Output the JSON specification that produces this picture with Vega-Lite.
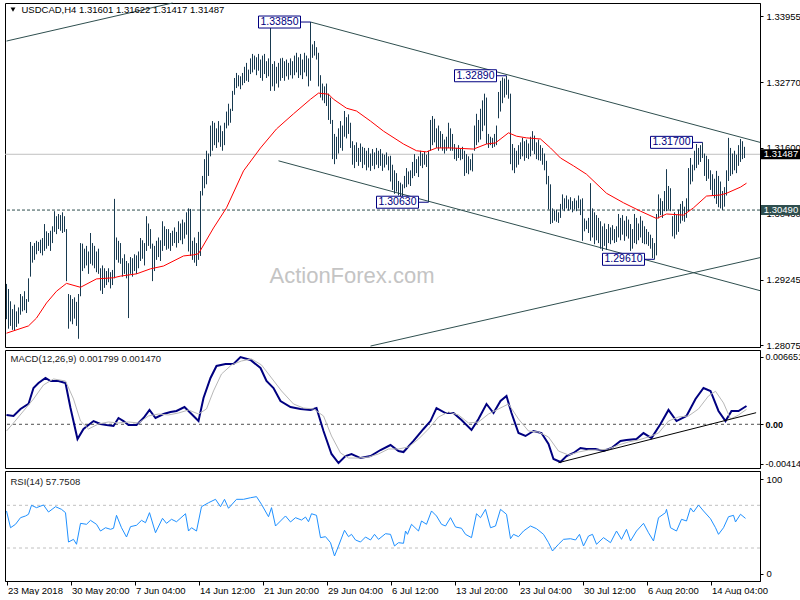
{
"$schema": "https://vega.github.io/schema/vega-lite/v6.json",
"background": "white",
"padding": {"left": 2, "top": 2, "right": 0, "bottom": 0},
"spacing": 3,
"bounds": "flush",
"resolve": {"scale": {"x": "independent", "y": "independent"}},
"config": {"view": {"stroke": "black", "strokeWidth": 1}, "font": "Liberation Sans", "text": {"font": "Liberation Sans"}},
"datasets": {
"bars": [
{"i":0,"h":1.2917,"l":1.2854},{"i":1,"h":1.2908,"l":1.2837},{"i":2,"h":1.2886,"l":1.2842},{"i":3,"h":1.2872,"l":1.2835},{"i":4,"h":1.2880,"l":1.2833},{"i":5,"h":1.2868,"l":1.2840},{"i":6,"h":1.2875,"l":1.2846},{"i":7,"h":1.2899,"l":1.2862},{"i":8,"h":1.2895,"l":1.2868},{"i":9,"h":1.2904,"l":1.2870},
{"i":10,"h":1.2890,"l":1.2865},{"i":11,"h":1.2927,"l":1.2885},{"i":12,"h":1.2992,"l":1.2930},{"i":13,"h":1.2985,"l":1.2955},{"i":14,"h":1.2990,"l":1.2960},{"i":15,"h":1.2994,"l":1.2970},{"i":16,"h":1.2992,"l":1.2976},{"i":17,"h":1.2996,"l":1.2972},{"i":18,"h":1.2999,"l":1.2968},{"i":19,"h":1.3024,"l":1.2976},
{"i":20,"h":1.3011,"l":1.2980},{"i":21,"h":1.3008,"l":1.2985},{"i":22,"h":1.3012,"l":1.2976},{"i":23,"h":1.3020,"l":1.2990},{"i":24,"h":1.3047,"l":1.3010},{"i":25,"h":1.3038,"l":1.3006},{"i":26,"h":1.3042,"l":1.3015},{"i":27,"h":1.3040,"l":1.3012},{"i":28,"h":1.3045,"l":1.3008},{"i":29,"h":1.3038,"l":1.3010},
{"i":30,"h":1.3015,"l":1.2922},{"i":31,"h":1.2899,"l":1.2837},{"i":32,"h":1.2897,"l":1.2850},{"i":33,"h":1.2890,"l":1.2845},{"i":34,"h":1.2893,"l":1.2855},{"i":35,"h":1.2885,"l":1.2842},{"i":36,"h":1.2899,"l":1.2819},{"i":37,"h":1.2990,"l":1.2895},{"i":38,"h":1.2989,"l":1.2940},{"i":39,"h":1.2980,"l":1.2945},
{"i":40,"h":1.2985,"l":1.2950},{"i":41,"h":1.2975,"l":1.2935},{"i":42,"h":1.3008,"l":1.2953},{"i":43,"h":1.2990,"l":1.2950},{"i":44,"h":1.2985,"l":1.2945},{"i":45,"h":1.2975,"l":1.2938},{"i":46,"h":1.2980,"l":1.2935},{"i":47,"h":1.2945,"l":1.2905},{"i":48,"h":1.2950,"l":1.2899},{"i":49,"h":1.2945,"l":1.2910},
{"i":50,"h":1.2940,"l":1.2915},{"i":51,"h":1.2945,"l":1.2920},{"i":52,"h":1.2938,"l":1.2909},{"i":53,"h":1.2942,"l":1.2915},{"i":54,"h":1.3069,"l":1.2927},{"i":55,"h":1.3000,"l":1.2960},{"i":56,"h":1.2994,"l":1.2955},{"i":57,"h":1.2990,"l":1.2953},{"i":58,"h":1.2963,"l":1.2930},{"i":59,"h":1.2970,"l":1.2935},
{"i":60,"h":1.2958,"l":1.2927},{"i":61,"h":1.2954,"l":1.2856},{"i":62,"h":1.2965,"l":1.2935},{"i":63,"h":1.2963,"l":1.2930},{"i":64,"h":1.2970,"l":1.2940},{"i":65,"h":1.2968,"l":1.2935},{"i":66,"h":1.2975,"l":1.2945},{"i":67,"h":1.2999,"l":1.2958},{"i":68,"h":1.2995,"l":1.2962},{"i":69,"h":1.2990,"l":1.2950},
{"i":70,"h":1.3038,"l":1.2976},{"i":71,"h":1.3025,"l":1.2985},{"i":72,"h":1.3015,"l":1.2980},{"i":73,"h":1.2989,"l":1.2922},{"i":74,"h":1.2985,"l":1.2940},{"i":75,"h":1.2994,"l":1.2960},{"i":76,"h":1.3000,"l":1.2965},{"i":77,"h":1.2995,"l":1.2958},{"i":78,"h":1.3029,"l":1.2976},{"i":79,"h":1.3020,"l":1.2985},
{"i":80,"h":1.3015,"l":1.2978},{"i":81,"h":1.3015,"l":1.2980},{"i":82,"h":1.3008,"l":1.2976},{"i":83,"h":1.3012,"l":1.2985},{"i":84,"h":1.3018,"l":1.2990},{"i":85,"h":1.3010,"l":1.2982},{"i":86,"h":1.3029,"l":1.2990},{"i":87,"h":1.3025,"l":1.2995},{"i":88,"h":1.3032,"l":1.2988},{"i":89,"h":1.3027,"l":1.2998},
{"i":90,"h":1.3045,"l":1.3005},{"i":91,"h":1.3052,"l":1.2975},{"i":92,"h":1.3051,"l":1.2967},{"i":93,"h":1.2994,"l":1.2960},{"i":94,"h":1.3000,"l":1.2955},{"i":95,"h":1.2990,"l":1.2949},{"i":96,"h":1.3010,"l":1.2960},{"i":97,"h":1.3083,"l":1.2967},{"i":98,"h":1.3110,"l":1.3075},{"i":99,"h":1.3140,"l":1.3088},
{"i":100,"h":1.3155,"l":1.3095},{"i":101,"h":1.3150,"l":1.3110},{"i":102,"h":1.3200,"l":1.3145},{"i":103,"h":1.3208,"l":1.3155},{"i":104,"h":1.3205,"l":1.3165},{"i":105,"h":1.3195,"l":1.3160},{"i":106,"h":1.3208,"l":1.3170},{"i":107,"h":1.3200,"l":1.3162},{"i":108,"h":1.3190,"l":1.3155},{"i":109,"h":1.3205,"l":1.3165},
{"i":110,"h":1.3225,"l":1.3195},{"i":111,"h":1.3239,"l":1.3200},{"i":112,"h":1.3230,"l":1.3205},{"i":113,"h":1.3262,"l":1.3226},{"i":114,"h":1.3285,"l":1.3255},{"i":115,"h":1.3294,"l":1.3267},{"i":116,"h":1.3290,"l":1.3270},{"i":117,"h":1.3288,"l":1.3265},{"i":118,"h":1.3294,"l":1.3272},{"i":119,"h":1.3305,"l":1.3276},
{"i":120,"h":1.3312,"l":1.3280},{"i":121,"h":1.3300,"l":1.3278},{"i":122,"h":1.3320,"l":1.3292},{"i":123,"h":1.3328,"l":1.3295},{"i":124,"h":1.3325,"l":1.3300},{"i":125,"h":1.3322,"l":1.3290},{"i":126,"h":1.3328,"l":1.3298},{"i":127,"h":1.3318,"l":1.3285},{"i":128,"h":1.3325,"l":1.3280},{"i":129,"h":1.3328,"l":1.3292},
{"i":130,"h":1.3315,"l":1.3285},{"i":131,"h":1.3320,"l":1.3288},{"i":132,"h":1.3382,"l":1.3262},{"i":133,"h":1.3310,"l":1.3270},{"i":134,"h":1.3315,"l":1.3262},{"i":135,"h":1.3305,"l":1.3275},{"i":136,"h":1.3312,"l":1.3268},{"i":137,"h":1.3320,"l":1.3280},{"i":138,"h":1.3321,"l":1.3285},{"i":139,"h":1.3315,"l":1.3280},
{"i":140,"h":1.3318,"l":1.3288},{"i":141,"h":1.3312,"l":1.3282},{"i":142,"h":1.3320,"l":1.3290},{"i":143,"h":1.3315,"l":1.3284},{"i":144,"h":1.3325,"l":1.3290},{"i":145,"h":1.3330,"l":1.3295},{"i":146,"h":1.3322,"l":1.3285},{"i":147,"h":1.3328,"l":1.3290},{"i":148,"h":1.3318,"l":1.3283},{"i":149,"h":1.3330,"l":1.3295},
{"i":150,"h":1.3325,"l":1.3288},{"i":151,"h":1.3320,"l":1.3270},{"i":152,"h":1.3385,"l":1.3280},{"i":153,"h":1.3345,"l":1.3321},{"i":154,"h":1.3351,"l":1.3325},{"i":155,"h":1.3340,"l":1.3318},{"i":156,"h":1.3330,"l":1.3270},{"i":157,"h":1.3290,"l":1.3250},{"i":158,"h":1.3275,"l":1.3245},{"i":159,"h":1.3270,"l":1.3240},
{"i":160,"h":1.3275,"l":1.3235},{"i":161,"h":1.3257,"l":1.3210},{"i":162,"h":1.3250,"l":1.3203},{"i":163,"h":1.3210,"l":1.3140},{"i":164,"h":1.3185,"l":1.3131},{"i":165,"h":1.3180,"l":1.3140},{"i":166,"h":1.3195,"l":1.3150},{"i":167,"h":1.3208,"l":1.3160},{"i":168,"h":1.3200,"l":1.3155},{"i":169,"h":1.3226,"l":1.3180},
{"i":170,"h":1.3215,"l":1.3177},{"i":171,"h":1.3220,"l":1.3185},{"i":172,"h":1.3205,"l":1.3160},{"i":173,"h":1.3172,"l":1.3130},{"i":174,"h":1.3165,"l":1.3124},{"i":175,"h":1.3170,"l":1.3135},{"i":176,"h":1.3160,"l":1.3128},{"i":177,"h":1.3168,"l":1.3135},{"i":178,"h":1.3162,"l":1.3124},{"i":179,"h":1.3160,"l":1.3130},
{"i":180,"h":1.3155,"l":1.3120},{"i":181,"h":1.3160,"l":1.3125},{"i":182,"h":1.3150,"l":1.3119},{"i":183,"h":1.3158,"l":1.3128},{"i":184,"h":1.3152,"l":1.3122},{"i":185,"h":1.3160,"l":1.3130},{"i":186,"h":1.3155,"l":1.3124},{"i":187,"h":1.3158,"l":1.3128},{"i":188,"h":1.3150,"l":1.3119},{"i":189,"h":1.3148,"l":1.3125},
{"i":190,"h":1.3152,"l":1.3130},{"i":191,"h":1.3145,"l":1.3120},{"i":192,"h":1.3146,"l":1.3100},{"i":193,"h":1.3130,"l":1.3085},{"i":194,"h":1.3120,"l":1.3078},{"i":195,"h":1.3115,"l":1.3082},{"i":196,"h":1.3101,"l":1.3075},{"i":197,"h":1.3098,"l":1.3070},{"i":198,"h":1.3095,"l":1.3072},{"i":199,"h":1.3110,"l":1.3088},
{"i":200,"h":1.3124,"l":1.3090},{"i":201,"h":1.3118,"l":1.3095},{"i":202,"h":1.3120,"l":1.3092},{"i":203,"h":1.3135,"l":1.3106},{"i":204,"h":1.3149,"l":1.3110},{"i":205,"h":1.3140,"l":1.3115},{"i":206,"h":1.3145,"l":1.3108},{"i":207,"h":1.3155,"l":1.3128},{"i":208,"h":1.3150,"l":1.3124},{"i":209,"h":1.3153,"l":1.3130},
{"i":210,"h":1.3148,"l":1.3126},{"i":211,"h":1.3155,"l":1.3063},{"i":212,"h":1.3210,"l":1.3155},{"i":213,"h":1.3217,"l":1.3165},{"i":214,"h":1.3212,"l":1.3170},{"i":215,"h":1.3195,"l":1.3160},{"i":216,"h":1.3200,"l":1.3155},{"i":217,"h":1.3190,"l":1.3160},{"i":218,"h":1.3185,"l":1.3155},{"i":219,"h":1.3175,"l":1.3150},
{"i":220,"h":1.3180,"l":1.3155},{"i":221,"h":1.3205,"l":1.3160},{"i":222,"h":1.3195,"l":1.3155},{"i":223,"h":1.3185,"l":1.3155},{"i":224,"h":1.3167,"l":1.3140},{"i":225,"h":1.3160,"l":1.3137},{"i":226,"h":1.3165,"l":1.3142},{"i":227,"h":1.3158,"l":1.3138},{"i":228,"h":1.3162,"l":1.3140},{"i":229,"h":1.3155,"l":1.3110},
{"i":230,"h":1.3149,"l":1.3115},{"i":231,"h":1.3145,"l":1.3113},{"i":232,"h":1.3140,"l":1.3120},{"i":233,"h":1.3150,"l":1.3118},{"i":234,"h":1.3200,"l":1.3155},{"i":235,"h":1.3221,"l":1.3165},{"i":236,"h":1.3210,"l":1.3170},{"i":237,"h":1.3230,"l":1.3175},{"i":238,"h":1.3245,"l":1.3190},{"i":239,"h":1.3257,"l":1.3200},
{"i":240,"h":1.3250,"l":1.3167},{"i":241,"h":1.3185,"l":1.3160},{"i":242,"h":1.3180,"l":1.3165},{"i":243,"h":1.3178,"l":1.3160},{"i":244,"h":1.3185,"l":1.3162},{"i":245,"h":1.3200,"l":1.3165},{"i":246,"h":1.3260,"l":1.3213},{"i":247,"h":1.3280,"l":1.3225},{"i":248,"h":1.3286,"l":1.3240},{"i":249,"h":1.3284,"l":1.3250},
{"i":250,"h":1.3289,"l":1.3255},{"i":251,"h":1.3282,"l":1.3248},{"i":252,"h":1.3257,"l":1.3131},{"i":253,"h":1.3167,"l":1.3120},{"i":254,"h":1.3160,"l":1.3115},{"i":255,"h":1.3155,"l":1.3125},{"i":256,"h":1.3165,"l":1.3130},{"i":257,"h":1.3170,"l":1.3140},{"i":258,"h":1.3178,"l":1.3145},{"i":259,"h":1.3172,"l":1.3137},
{"i":260,"h":1.3175,"l":1.3142},{"i":261,"h":1.3168,"l":1.3140},{"i":262,"h":1.3180,"l":1.3145},{"i":263,"h":1.3190,"l":1.3155},{"i":264,"h":1.3182,"l":1.3149},{"i":265,"h":1.3170,"l":1.3140},{"i":266,"h":1.3175,"l":1.3138},{"i":267,"h":1.3165,"l":1.3137},{"i":268,"h":1.3160,"l":1.3130},{"i":269,"h":1.3150,"l":1.3120},
{"i":270,"h":1.3137,"l":1.3095},{"i":271,"h":1.3110,"l":1.3050},{"i":272,"h":1.3095,"l":1.3024},{"i":273,"h":1.3052,"l":1.3026},{"i":274,"h":1.3048,"l":1.3030},{"i":275,"h":1.3050,"l":1.3028},{"i":276,"h":1.3045,"l":1.3026},{"i":277,"h":1.3060,"l":1.3035},{"i":278,"h":1.3077,"l":1.3050},{"i":279,"h":1.3070,"l":1.3047},
{"i":280,"h":1.3075,"l":1.3052},{"i":281,"h":1.3068,"l":1.3048},{"i":282,"h":1.3072,"l":1.3050},{"i":283,"h":1.3065,"l":1.3045},{"i":284,"h":1.3070,"l":1.3050},{"i":285,"h":1.3066,"l":1.3047},{"i":286,"h":1.3075,"l":1.3052},{"i":287,"h":1.3068,"l":1.3040},{"i":288,"h":1.3070,"l":1.2994},{"i":289,"h":1.3034,"l":1.3011},
{"i":290,"h":1.3030,"l":1.3015},{"i":291,"h":1.3035,"l":1.3008},{"i":292,"h":1.3097,"l":1.2994},{"i":293,"h":1.3052,"l":1.3000},{"i":294,"h":1.3045,"l":1.2988},{"i":295,"h":1.3040,"l":1.2995},{"i":296,"h":1.3035,"l":1.2990},{"i":297,"h":1.3029,"l":1.2980},{"i":298,"h":1.3020,"l":1.2976},{"i":299,"h":1.3025,"l":1.2985},
{"i":300,"h":1.3015,"l":1.2978},{"i":301,"h":1.3024,"l":1.2990},{"i":302,"h":1.3018,"l":1.2988},{"i":303,"h":1.3022,"l":1.2995},{"i":304,"h":1.3015,"l":1.2990},{"i":305,"h":1.3020,"l":1.2992},{"i":306,"h":1.3042,"l":1.3000},{"i":307,"h":1.3035,"l":1.2995},{"i":308,"h":1.3040,"l":1.3005},{"i":309,"h":1.3030,"l":1.2994},
{"i":310,"h":1.3038,"l":1.3002},{"i":311,"h":1.3032,"l":1.2998},{"i":312,"h":1.3024,"l":1.2976},{"i":313,"h":1.3015,"l":1.2980},{"i":314,"h":1.3042,"l":1.2990},{"i":315,"h":1.3035,"l":1.2988},{"i":316,"h":1.3025,"l":1.2995},{"i":317,"h":1.3038,"l":1.3000},{"i":318,"h":1.3030,"l":1.2990},{"i":319,"h":1.3020,"l":1.2988},
{"i":320,"h":1.3015,"l":1.2988},{"i":321,"h":1.3010,"l":1.2985},{"i":322,"h":1.3005,"l":1.2980},{"i":323,"h":1.2999,"l":1.2963},{"i":324,"h":1.2990,"l":1.2961},{"i":325,"h":1.3042,"l":1.2968},{"i":326,"h":1.3077,"l":1.3034},{"i":327,"h":1.3070,"l":1.3040},{"i":328,"h":1.3065,"l":1.3035},{"i":329,"h":1.3083,"l":1.3047},
{"i":330,"h":1.3122,"l":1.3047},{"i":331,"h":1.3092,"l":1.3050},{"i":332,"h":1.3088,"l":1.3047},{"i":333,"h":1.3038,"l":1.3002},{"i":334,"h":1.3045,"l":1.2998},{"i":335,"h":1.3040,"l":1.3005},{"i":336,"h":1.3050,"l":1.3010},{"i":337,"h":1.3060,"l":1.3025},{"i":338,"h":1.3065,"l":1.3030},{"i":339,"h":1.3055,"l":1.3028},
{"i":340,"h":1.3070,"l":1.3035},{"i":341,"h":1.3124,"l":1.3047},{"i":342,"h":1.3142,"l":1.3095},{"i":343,"h":1.3130,"l":1.3100},{"i":344,"h":1.3155,"l":1.3120},{"i":345,"h":1.3167,"l":1.3124},{"i":346,"h":1.3160,"l":1.3130},{"i":347,"h":1.3165,"l":1.3135},{"i":348,"h":1.3170,"l":1.3142},{"i":349,"h":1.3150,"l":1.3110},
{"i":350,"h":1.3146,"l":1.3101},{"i":351,"h":1.3140,"l":1.3105},{"i":352,"h":1.3120,"l":1.3085},{"i":353,"h":1.3113,"l":1.3075},{"i":354,"h":1.3105,"l":1.3070},{"i":355,"h":1.3119,"l":1.3060},{"i":356,"h":1.3110,"l":1.3054},{"i":357,"h":1.3100,"l":1.3052},{"i":358,"h":1.3083,"l":1.3049},{"i":359,"h":1.3090,"l":1.3055},
{"i":360,"h":1.3120,"l":1.3075},{"i":361,"h":1.3178,"l":1.3101},{"i":362,"h":1.3160,"l":1.3110},{"i":363,"h":1.3150,"l":1.3113},{"i":364,"h":1.3155,"l":1.3120},{"i":365,"h":1.3148,"l":1.3115},{"i":366,"h":1.3165,"l":1.3128},{"i":367,"h":1.3176,"l":1.3135},{"i":368,"h":1.3172,"l":1.3140},{"i":369,"h":1.3162,"l":1.3142}
],
"ma": [
{"i":0,"v":1.2829},{"i":11,"v":1.2842},{"i":15,"v":1.2856},{"i":20,"v":1.2883},{"i":25,"v":1.2904},{"i":30,"v":1.2918},{"i":37,"v":1.2911},{"i":45,"v":1.2926},{"i":53.5,"v":1.2928},{"i":57,"v":1.2931},{"i":65,"v":1.2935},{"i":72,"v":1.2944},{"i":78.5,"v":1.2949},{"i":88.5,"v":1.2967},{"i":93.5,"v":1.2969},{"i":96,"v":1.2971},{"i":103.5,"v":1.3017},{"i":110,"v":1.3053},{"i":118.5,"v":1.3119},{"i":127,"v":1.3160},{"i":135,"v":1.3194},{"i":143.5,"v":1.3221},{"i":152,"v":1.3247},{"i":156,"v":1.3258},{"i":161,"v":1.3256},{"i":163.5,"v":1.3247},{"i":170,"v":1.3231},{"i":175,"v":1.3226},{"i":182,"v":1.3208},{"i":188.5,"v":1.3190},{"i":198.5,"v":1.3167},{"i":205,"v":1.3155},{"i":210,"v":1.3153},{"i":215,"v":1.3160},{"i":222,"v":1.3160},{"i":233.5,"v":1.3158},{"i":240,"v":1.3167},{"i":244.5,"v":1.3169},{"i":251,"v":1.3187},{"i":255,"v":1.3181},{"i":260,"v":1.3178},{"i":267,"v":1.3176},{"i":272,"v":1.3160},{"i":277,"v":1.3142},{"i":283.5,"v":1.3128},{"i":290,"v":1.3113},{"i":300,"v":1.3079},{"i":308.5,"v":1.3062},{"i":317,"v":1.3047},{"i":325,"v":1.3034},{"i":330,"v":1.3042},{"i":338.5,"v":1.3040},{"i":343.5,"v":1.3053},{"i":350,"v":1.3074},{"i":357,"v":1.3076},{"i":360,"v":1.3079},{"i":367,"v":1.3090},{"i":370,"v":1.3097}
],
"macd": [
{"i":0,"m":0.00092},{"i":3.5,"m":0.00082},{"i":7,"m":0.00151},{"i":11,"m":0.00200},{"i":13.5,"m":0.00357},{"i":16,"m":0.00406},{"i":19.5,"m":0.00456},{"i":22,"m":0.00426},{"i":26,"m":0.00426},{"i":29.5,"m":0.00406},{"i":32,"m":0.00160},{"i":35.5,"m":-0.00145},{"i":38.5,"m":-0.00046},{"i":43.5,"m":0.00032},{"i":47,"m":0.00003},{"i":50,"m":-0.00007},{"i":53.5,"m":-0.00017},{"i":56,"m":0.00062},{"i":58.5,"m":0.00032},{"i":61,"m":-0.00007},{"i":65,"m":-0.00007},{"i":68.5,"m":0.00062},{"i":71.5,"m":0.00141},{"i":74.5,"m":0.00062},{"i":78.5,"m":0.00101},{"i":82,"m":0.00121},{"i":85,"m":0.00131},{"i":89,"m":0.00170},{"i":92,"m":0.00111},{"i":96,"m":0.00032},{"i":98.5,"m":0.00259},{"i":102,"m":0.00456},{"i":105,"m":0.00574},{"i":109.5,"m":0.00593},{"i":113.5,"m":0.00593},{"i":117,"m":0.00662},{"i":122,"m":0.00633},{"i":127,"m":0.00554},{"i":130,"m":0.00426},{"i":133.5,"m":0.00357},{"i":137,"m":0.00229},{"i":142,"m":0.00170},{"i":147,"m":0.00151},{"i":152,"m":0.00141},{"i":155,"m":0.00160},{"i":158.5,"m":-0.00066},{"i":162.5,"m":-0.00292},{"i":166,"m":-0.00381},{"i":169.5,"m":-0.00312},{"i":172.5,"m":-0.00292},{"i":177,"m":-0.00332},{"i":182,"m":-0.00312},{"i":187,"m":-0.00253},{"i":192,"m":-0.00204},{"i":196,"m":-0.00263},{"i":198.5,"m":-0.00273},{"i":203.5,"m":-0.00164},{"i":208.5,"m":-0.00046},{"i":212,"m":0.00032},{"i":215,"m":0.00160},{"i":219.5,"m":0.00111},{"i":223.5,"m":0.00111},{"i":227.5,"m":0.00042},{"i":232.5,"m":-0.00056},{"i":236,"m":0.00052},{"i":240,"m":0.00200},{"i":243.5,"m":0.00111},{"i":247,"m":0.00229},{"i":250,"m":0.00278},{"i":252.5,"m":0.00111},{"i":256,"m":-0.00086},{"i":259.5,"m":-0.00115},{"i":263.5,"m":-0.00066},{"i":267.5,"m":-0.00086},{"i":271,"m":-0.00194},{"i":273.5,"m":-0.00341},{"i":277,"m":-0.00371},{"i":280,"m":-0.00312},{"i":283.5,"m":-0.00282},{"i":287,"m":-0.00233},{"i":290,"m":-0.00243},{"i":294.5,"m":-0.00243},{"i":298.5,"m":-0.00263},{"i":302.5,"m":-0.00233},{"i":307,"m":-0.00164},{"i":310,"m":-0.00154},{"i":315,"m":-0.00145},{"i":318.5,"m":-0.00086},{"i":322.5,"m":-0.00135},{"i":327,"m":0.00003},{"i":331,"m":0.00141},{"i":335,"m":0.00032},{"i":340,"m":0.00082},{"i":344.5,"m":0.00249},{"i":348.5,"m":0.00357},{"i":352,"m":0.00328},{"i":356,"m":0.00131},{"i":359.5,"m":0.00032},{"i":362.5,"m":0.00131},{"i":366,"m":0.00131},{"i":370,"m":0.00180}
],
"sig": [
{"i":0,"s":-0.00066},{"i":3.5,"s":0.00013},{"i":8.5,"s":0.00131},{"i":13.5,"s":0.00249},{"i":18.5,"s":0.00387},{"i":23.5,"s":0.00446},{"i":29.5,"s":0.00426},{"i":33.5,"s":0.00249},{"i":37,"s":0.00032},{"i":41,"s":-0.00046},{"i":46,"s":0.00003},{"i":51,"s":0.00023},{"i":56,"s":0.00013},{"i":61,"s":0.00023},{"i":66,"s":0.00013},{"i":71,"s":0.00082},{"i":76,"s":0.00101},{"i":81,"s":0.00092},{"i":86,"s":0.00111},{"i":91,"s":0.00141},{"i":96,"s":0.00101},{"i":100,"s":0.00151},{"i":103.5,"s":0.00328},{"i":107.5,"s":0.00495},{"i":112.5,"s":0.00584},{"i":117.5,"s":0.00623},{"i":122.5,"s":0.00643},{"i":127.5,"s":0.00584},{"i":132.5,"s":0.00456},{"i":137.5,"s":0.00328},{"i":143.5,"s":0.00200},{"i":148.5,"s":0.00160},{"i":153.5,"s":0.00151},{"i":158.5,"s":0.00082},{"i":162.5,"s":-0.00115},{"i":167,"s":-0.00282},{"i":171,"s":-0.00332},{"i":176,"s":-0.00332},{"i":181,"s":-0.00322},{"i":186,"s":-0.00292},{"i":191,"s":-0.00243},{"i":196,"s":-0.00243},{"i":201,"s":-0.00223},{"i":206,"s":-0.00145},{"i":211,"s":-0.00046},{"i":216,"s":0.00072},{"i":221,"s":0.00121},{"i":226,"s":0.00092},{"i":231,"s":0.00013},{"i":236,"s":0.00023},{"i":241,"s":0.00101},{"i":246,"s":0.00151},{"i":251,"s":0.00200},{"i":256,"s":0.00052},{"i":261,"s":-0.00066},{"i":266,"s":-0.00076},{"i":271,"s":-0.00125},{"i":276,"s":-0.00263},{"i":281,"s":-0.00302},{"i":286,"s":-0.00273},{"i":291,"s":-0.00253},{"i":296,"s":-0.00253},{"i":301,"s":-0.00243},{"i":306,"s":-0.00204},{"i":311,"s":-0.00174},{"i":316,"s":-0.00154},{"i":321,"s":-0.00125},{"i":326,"s":-0.00086},{"i":331,"s":0.00032},{"i":336,"s":0.00072},{"i":341,"s":0.00082},{"i":346,"s":0.00151},{"i":351,"s":0.00279},{"i":354.5,"s":0.00325},{"i":358.5,"s":0.00210},{"i":362,"s":0.00052},{"i":366,"s":0.00091},{"i":370,"s":0.00147}
],
"rsi": [
{"i":0,"r":64.7},{"i":2,"r":49.0},{"i":4.5,"r":52.2},{"i":7,"r":58.4},{"i":9.5,"r":60.0},{"i":11,"r":61.6},{"i":12.5,"r":70.0},{"i":15,"r":67.8},{"i":18.5,"r":70.3},{"i":21,"r":63.7},{"i":24.5,"r":68.7},{"i":27.5,"r":66.2},{"i":29.5,"r":63.1},{"i":31,"r":35.6},{"i":33.5,"r":38.1},{"i":35,"r":33.5},{"i":37,"r":53.1},{"i":40,"r":52.2},{"i":42,"r":55.9},{"i":45,"r":52.2},{"i":47,"r":45.9},{"i":49.5,"r":49.0},{"i":52,"r":47.5},{"i":53.5,"r":48.5},{"i":55,"r":60.6},{"i":57.5,"r":49.0},{"i":60,"r":40.3},{"i":62,"r":50.0},{"i":65,"r":51.3},{"i":67.5,"r":55.9},{"i":69.5,"r":53.7},{"i":71.5,"r":63.1},{"i":74.5,"r":44.3},{"i":78,"r":57.8},{"i":80,"r":53.1},{"i":82.5,"r":56.9},{"i":85,"r":54.6},{"i":89.5,"r":62.1},{"i":91,"r":45.9},{"i":92.5,"r":49.0},{"i":95,"r":45.9},{"i":97.5,"r":68.7},{"i":101,"r":72.4},{"i":104.5,"r":75.6},{"i":107,"r":68.7},{"i":109,"r":75.6},{"i":111,"r":67.2},{"i":115,"r":75.6},{"i":118.5,"r":75.6},{"i":122,"r":77.1},{"i":125,"r":78.1},{"i":127.5,"r":70.9},{"i":131,"r":59.3},{"i":132.5,"r":67.8},{"i":134.5,"r":50.6},{"i":137,"r":55.3},{"i":139.5,"r":60.0},{"i":142,"r":54.4},{"i":144.5,"r":58.4},{"i":147.5,"r":56.2},{"i":149.5,"r":59.0},{"i":151,"r":54.6},{"i":152.5,"r":62.1},{"i":155,"r":60.6},{"i":157,"r":39.7},{"i":159.5,"r":40.6},{"i":162,"r":35.0},{"i":164,"r":22.5},{"i":166,"r":31.9},{"i":169,"r":46.6},{"i":171,"r":40.6},{"i":172.5,"r":42.8},{"i":174.5,"r":37.5},{"i":177,"r":35.6},{"i":179.5,"r":40.3},{"i":182,"r":37.5},{"i":184,"r":42.8},{"i":186,"r":38.1},{"i":189.5,"r":43.4},{"i":192,"r":42.8},{"i":194,"r":31.9},{"i":196,"r":35.0},{"i":198.5,"r":34.4},{"i":199.5,"r":45.9},{"i":200.5,"r":42.8},{"i":202.5,"r":52.2},{"i":206,"r":45.9},{"i":207.5,"r":55.3},{"i":210,"r":52.2},{"i":212.5,"r":64.7},{"i":215,"r":60.0},{"i":217.5,"r":52.2},{"i":219.5,"r":50.6},{"i":222,"r":58.4},{"i":224.5,"r":49.7},{"i":227.5,"r":48.5},{"i":229.5,"r":42.8},{"i":232.5,"r":39.7},{"i":235,"r":62.1},{"i":237,"r":58.4},{"i":239.5,"r":66.2},{"i":242,"r":49.0},{"i":244.5,"r":50.6},{"i":247,"r":66.2},{"i":250,"r":61.6},{"i":252,"r":38.7},{"i":253.5,"r":42.8},{"i":256,"r":40.6},{"i":258.5,"r":45.9},{"i":262,"r":50.6},{"i":265,"r":48.1},{"i":268.5,"r":42.8},{"i":271,"r":35.0},{"i":273,"r":27.2},{"i":276,"r":33.5},{"i":278.5,"r":38.1},{"i":282,"r":38.7},{"i":284.5,"r":37.5},{"i":286.5,"r":42.8},{"i":288.5,"r":31.9},{"i":291,"r":41.2},{"i":293,"r":42.8},{"i":295,"r":33.5},{"i":298.5,"r":39.7},{"i":302,"r":35.0},{"i":305,"r":45.9},{"i":307.5,"r":38.1},{"i":310,"r":47.5},{"i":312,"r":36.6},{"i":315,"r":45.9},{"i":318.5,"r":53.1},{"i":321,"r":44.3},{"i":323.5,"r":36.6},{"i":326,"r":58.4},{"i":329.5,"r":63.1},{"i":330,"r":66.2},{"i":332,"r":49.0},{"i":335,"r":45.9},{"i":337.5,"r":56.9},{"i":340,"r":55.3},{"i":342,"r":67.5},{"i":343.5,"r":63.7},{"i":346,"r":70.3},{"i":348.5,"r":64.7},{"i":352,"r":57.4},{"i":354.5,"r":49.0},{"i":356,"r":42.8},{"i":358.5,"r":49.0},{"i":361,"r":59.3},{"i":363.5,"r":60.6},{"i":364.5,"r":54.4},{"i":367,"r":61.6},{"i":369.5,"r":57.75}
],
"tl": [
{"a":0,"b":83,"p":1.3351,"q":1.3419},
{"a":182,"b":376.75,"p":1.2806,"q":1.2964},
{"a":152,"b":376.75,"p":1.3385,"q":1.3170},
{"a":136,"b":376.75,"p":1.3137,"q":1.2905}
],
"mtl": [{"a":276,"b":374.8,"p":-0.00378,"q":0.00114}],
"lab": [
{"i":152,"p":1.3385,"t":"1.33850"},
{"i":250,"p":1.3289,"t":"1.32890"},
{"i":211,"p":1.3063,"t":"1.30630"},
{"i":324,"p":1.2961,"t":"1.29610"},
{"i":348,"p":1.3170,"t":"1.31700"}
]
},
"vconcat": [
{
"width": 755, "height": 344,
"layer": [
{"data": {"values": [{}]}, "mark": {"type": "rule", "color": "#c0c0c0", "strokeWidth": 1},
 "encoding": {"y": {"datum": 1.31487, "type": "quantitative", "title": null,
  "scale": {"domain": [1.28043, 1.3419], "nice": false, "zero": false},
  "axis": {"orient": "right", "values": [1.33955,1.3337,1.3277,1.32185,1.316,1.31015,1.3043,1.2983,1.29245,1.2866,1.28075], "format": ".5f", "title": null, "grid": false, "tickSize": 3, "labelPadding": 3, "labelFontSize": 9.5, "labelFont": "Liberation Sans", "labelColor": "black", "domainColor": "black", "tickColor": "black", "labelOverlap": false, "labelBound": false, "labelFlush": false}}}},
{"data": {"values": [{}]}, "mark": {"type": "rule", "color": "#2f4f4f", "strokeWidth": 1, "strokeDash": [3, 2]},
 "encoding": {"y": {"datum": 1.3049, "type": "quantitative", "title": null}}},
{"data": {"values": [{}]}, "mark": {"type": "text", "fontSize": 22, "color": "#c4c4c4", "align": "center", "baseline": "middle", "font": "Liberation Sans"},
 "encoding": {"x": {"datum": 172.75, "type": "quantitative", "scale": {"domain": [-0.75, 376.75], "nice": false, "zero": false}, "axis": null, "title": null}, "y": {"datum": 1.2932, "type": "quantitative", "title": null}, "text": {"value": "ActionForex.com"}}},
{"data": {"name": "tl"}, "mark": {"type": "rule", "color": "#2f4f4f", "strokeWidth": 1},
 "encoding": {"x": {"field": "a", "type": "quantitative", "scale": {"domain": [-0.75, 376.75], "nice": false, "zero": false}, "axis": null, "title": null}, "x2": {"field": "b"}, "y": {"field": "p", "type": "quantitative", "title": null}, "y2": {"field": "q"}}},
{"data": {"name": "bars"}, "mark": {"type": "rule", "color": "#183a50", "strokeWidth": 1},
 "encoding": {"x": {"field": "i", "type": "quantitative", "scale": {"domain": [-0.75, 376.75], "nice": false, "zero": false}, "axis": null, "title": null}, "y": {"field": "l", "type": "quantitative", "title": null}, "y2": {"field": "h"}}},
{"data": {"name": "ma"}, "mark": {"type": "line", "color": "#ff0000", "strokeWidth": 1},
 "encoding": {"x": {"field": "i", "type": "quantitative", "scale": {"domain": [-0.75, 376.75], "nice": false, "zero": false}, "axis": null, "title": null}, "y": {"field": "v", "type": "quantitative", "title": null}}},
{"data": {"name": "lab"}, "mark": {"type": "point", "shape": "M-5.2,-0.6H-1V0.6H-5.2ZM-1,0H0", "size": 400, "filled": true, "fill": "white", "stroke": "#000080", "strokeWidth": 1, "opacity": 1},
 "encoding": {"x": {"field": "i", "type": "quantitative", "scale": {"domain": [-0.75, 376.75], "nice": false, "zero": false}, "axis": null, "title": null}, "y": {"field": "p", "type": "quantitative", "title": null}}},
{"data": {"name": "lab"}, "mark": {"type": "text", "dx": -31, "align": "center", "baseline": "middle", "fontSize": 10.5, "color": "#000080", "font": "Liberation Sans"},
 "encoding": {"x": {"field": "i", "type": "quantitative", "scale": {"domain": [-0.75, 376.75], "nice": false, "zero": false}, "axis": null, "title": null}, "y": {"field": "p", "type": "quantitative", "title": null}, "text": {"field": "t"}}},
{"data": {"values": [{}]}, "mark": {"type": "point", "shape": "triangle-down", "size": 24, "filled": true, "color": "black", "opacity": 1},
 "encoding": {"x": {"datum": 3.25, "type": "quantitative", "scale": {"domain": [-0.75, 376.75], "nice": false, "zero": false}, "axis": null, "title": null}, "y": {"datum": 1.3407, "type": "quantitative", "title": null}}},
{"data": {"values": [{}]}, "mark": {"type": "text", "align": "left", "baseline": "middle", "fontSize": 9.5, "color": "black", "font": "Liberation Sans"},
 "encoding": {"x": {"datum": 7.5, "type": "quantitative", "scale": {"domain": [-0.75, 376.75], "nice": false, "zero": false}, "axis": null, "title": null}, "y": {"datum": 1.3407, "type": "quantitative", "title": null}, "text": {"value": "USDCAD,H4  1.31601 1.31622 1.31417 1.31487"}}},
{"data": {"values": [{}]}, "mark": {"type": "point", "shape": "M0.1,-0.5H4.1V0.5H0.1Z", "size": 400, "filled": true, "fill": "black", "strokeWidth": 0, "opacity": 1},
 "encoding": {"x": {"datum": 376.75, "type": "quantitative", "scale": {"domain": [-0.75, 376.75], "nice": false, "zero": false}, "axis": null, "title": null}, "y": {"datum": 1.31487, "type": "quantitative", "title": null}}},
{"data": {"values": [{}]}, "mark": {"type": "text", "dx": 21, "align": "center", "baseline": "middle", "fontSize": 9.5, "color": "white", "font": "Liberation Sans"},
 "encoding": {"x": {"datum": 376.75, "type": "quantitative", "scale": {"domain": [-0.75, 376.75], "nice": false, "zero": false}, "axis": null, "title": null}, "y": {"datum": 1.31487, "type": "quantitative", "title": null}, "text": {"value": "1.31487"}}},
{"data": {"values": [{}]}, "mark": {"type": "point", "shape": "M0.1,-0.5H4.1V0.5H0.1Z", "size": 400, "filled": true, "fill": "#2f4f4f", "strokeWidth": 0, "opacity": 1},
 "encoding": {"x": {"datum": 376.75, "type": "quantitative", "scale": {"domain": [-0.75, 376.75], "nice": false, "zero": false}, "axis": null, "title": null}, "y": {"datum": 1.3049, "type": "quantitative", "title": null}}},
{"data": {"values": [{}]}, "mark": {"type": "text", "dx": 21, "align": "center", "baseline": "middle", "fontSize": 9.5, "color": "white", "font": "Liberation Sans"},
 "encoding": {"x": {"datum": 376.75, "type": "quantitative", "scale": {"domain": [-0.75, 376.75], "nice": false, "zero": false}, "axis": null, "title": null}, "y": {"datum": 1.3049, "type": "quantitative", "title": null}, "text": {"value": "1.30490"}}}
]
},
{
"width": 755, "height": 118,
"layer": [
{"data": {"values": [{}]}, "mark": {"type": "rule", "color": "#505050", "strokeWidth": 1, "strokeDash": [3, 3]},
 "encoding": {"y": {"datum": 0, "type": "quantitative", "title": null,
  "scale": {"domain": [-0.0043, 0.00731], "nice": false, "zero": false},
  "axis": {"orient": "right", "values": [0.00665, 0, -0.00388], "labelExpr": "datum.value > 0.001 ? '0.006651' : (datum.value < -0.001 ? '-0.004145' : '0.00')", "labelFontWeight": {"condition": {"test": "datum.value == 0", "value": "bold"}, "value": "normal"}, "title": null, "grid": false, "tickSize": 3, "labelPadding": 2, "labelFontSize": 9, "labelFont": "Liberation Sans", "labelColor": "black", "domainColor": "black", "tickColor": "black", "labelOverlap": false, "labelBound": false, "labelFlush": false}}}},
{"data": {"name": "macd"}, "mark": {"type": "line", "color": "#000080", "strokeWidth": 2},
 "encoding": {"x": {"field": "i", "type": "quantitative", "scale": {"domain": [-0.75, 376.75], "nice": false, "zero": false}, "axis": null, "title": null}, "y": {"field": "m", "type": "quantitative", "title": null}}},
{"data": {"name": "sig"}, "mark": {"type": "line", "color": "#b8b8b8", "strokeWidth": 1},
 "encoding": {"x": {"field": "i", "type": "quantitative", "scale": {"domain": [-0.75, 376.75], "nice": false, "zero": false}, "axis": null, "title": null}, "y": {"field": "s", "type": "quantitative", "title": null}}},
{"data": {"name": "mtl"}, "mark": {"type": "rule", "color": "black", "strokeWidth": 1},
 "encoding": {"x": {"field": "a", "type": "quantitative", "scale": {"domain": [-0.75, 376.75], "nice": false, "zero": false}, "axis": null, "title": null}, "x2": {"field": "b"}, "y": {"field": "p", "type": "quantitative", "title": null}, "y2": {"field": "q"}}},
{"data": {"values": [{}]}, "mark": {"type": "text", "align": "left", "baseline": "middle", "fontSize": 9.5, "color": "#202020", "font": "Liberation Sans"},
 "encoding": {"x": {"datum": 2, "type": "quantitative", "scale": {"domain": [-0.75, 376.75], "nice": false, "zero": false}, "axis": null, "title": null}, "y": {"datum": 0.00643, "type": "quantitative", "title": null}, "text": {"value": "MACD(12,26,9) 0.001799 0.001470"}}}
]
},
{
"width": 755, "height": 110,
"layer": [
{"data": {"values": [{}]}, "mark": {"type": "rule", "color": "#c0c0c0", "strokeWidth": 1, "strokeDash": [3, 3]},
 "encoding": {"y": {"datum": 70, "type": "quantitative", "title": null,
  "scale": {"domain": [-0.91, 102.13], "nice": false, "zero": false},
  "axis": {"orient": "right", "values": [94.4, 70, 30, 5.9], "labelExpr": "datum.value > 90 ? '100' : (datum.value < 10 ? '0' : format(datum.value, 'd'))", "title": null, "grid": false, "tickSize": 3, "labelPadding": 3, "labelFontSize": 9.5, "labelFont": "Liberation Sans", "labelColor": "black", "domainColor": "black", "tickColor": "black", "labelOverlap": false, "labelBound": false, "labelFlush": false}}}},
{"data": {"values": [{}]}, "mark": {"type": "rule", "color": "#c0c0c0", "strokeWidth": 1, "strokeDash": [3, 3]},
 "encoding": {"y": {"datum": 30, "type": "quantitative", "title": null}}},
{"data": {"name": "rsi"}, "mark": {"type": "line", "color": "#1e90ff", "strokeWidth": 1},
 "encoding": {"x": {"field": "i", "type": "quantitative", "title": null, "scale": {"domain": [-0.75, 376.75], "nice": false, "zero": false},
  "axis": {"values": [0,32,64,96,128,160,192,224,256,288,320,352], "labelExpr": "['23 May 2018','30 May 20:00','7 Jun 04:00','14 Jun 12:00','21 Jun 20:00','29 Jun 04:00','6 Jul 12:00','13 Jul 20:00','23 Jul 04:00','30 Jul 12:00','6 Aug 20:00','14 Aug 04:00'][round(datum.value / 32)]", "labelAlign": "left", "labelOffset": 1, "tickSize": 4, "labelPadding": 0, "labelFontSize": 9.5, "labelFont": "Liberation Sans", "labelColor": "black", "domainColor": "black", "tickColor": "black", "grid": false, "title": null, "labelOverlap": false, "labelBound": false, "labelFlush": false}},
  "y": {"field": "r", "type": "quantitative", "title": null}}},
{"data": {"values": [{}]}, "mark": {"type": "text", "align": "left", "baseline": "middle", "fontSize": 9.5, "color": "#202020", "font": "Liberation Sans"},
 "encoding": {"x": {"datum": 2, "type": "quantitative", "title": null, "scale": {"domain": [-0.75, 376.75], "nice": false, "zero": false}}, "y": {"datum": 92.1, "type": "quantitative", "title": null}, "text": {"value": "RSI(14) 57.7508"}}}
]
}
]
}
